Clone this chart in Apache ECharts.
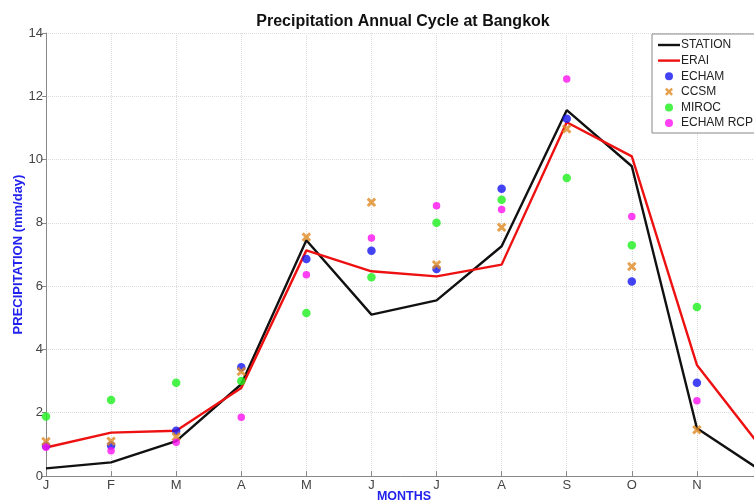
<!DOCTYPE html>
<html>
<head>
<meta charset="utf-8">
<script src="https://cdn.jsdelivr.net/npm/echarts@6/dist/echarts.min.js"></script>
<style>
  html, body { margin: 0; padding: 0; background: #fff; }
  #chart { width: 754px; height: 504px; }
</style>
</head>
<body>
<div id="chart"></div>
<script>
// Monthly mean precipitation (mm/day) at Bangkok
const months = ['J', 'F', 'M', 'A', 'M', 'J', 'J', 'A', 'S', 'O', 'N', 'D'];
const yTicks = [0, 2, 4, 6, 8, 10, 12, 14];

const station = [0.24, 0.43, 1.10, 2.90, 7.45, 5.10, 5.55, 7.26, 11.56, 9.79, 1.51, 0.15];
const erai    = [0.90, 1.37, 1.43, 2.78, 7.13, 6.47, 6.31, 6.68, 11.18, 10.10, 3.51, 0.87];
const echam   = [0.95, 0.96, 1.43, 3.44, 6.86, 7.12, 6.54, 9.08, 11.29, 6.15, 2.95, null];
const ccsm    = [1.09, 1.10, 1.24, 3.30, 7.55, 8.65, 6.68, 7.86, 10.97, 6.62, 1.46, null];
const miroc   = [1.88, 2.40, 2.95, 3.00, 5.15, 6.28, 8.00, 8.73, 9.42, 7.29, 5.34, null];
const echamRcp = [0.91, 0.80, 1.07, 1.86, 6.36, 7.52, 8.54, 8.42, 12.55, 8.20, 2.38, null];

const lineIcon = 'path://M0,0H22V2.4H0Z';
const crossIcon = 'path://M0,2.2L2.2,0L5,2.8L7.8,0L10,2.2L7.2,5L10,7.8L7.8,10L5,7.2L2.2,10L0,7.8L2.8,5Z';

const chart = echarts.init(document.getElementById('chart'), null, { renderer: 'canvas' });

const font = 'Liberation Sans, Arial, Helvetica, sans-serif';

function scatter(name, data, color, symbol, size) {
  return {
    name, type: 'scatter', data,
    symbol, symbolSize: size,
    itemStyle: { color },
    z: 5
  };
}

chart.setOption({
  animation: false,
  backgroundColor: '#fff',
  title: {
    text: 'Precipitation Annual Cycle at Bangkok',
    left: 398, textAlign: 'center', top: 9,
    textStyle: { fontFamily: font, fontSize: 16, fontWeight: 'bold', color: '#111' }
  },
  // the December column sits just past the right edge of the page
  grid: { left: 46, width: 716, top: 33, height: 443, containLabel: false, outerBoundsMode: 'none' },
  legend: {
    orient: 'vertical',
    left: 652, top: 34,
    padding: [5, 6, 4, 6],
    itemWidth: 22, itemHeight: 8, itemGap: 3.6,
    backgroundColor: '#fff',
    borderColor: '#888', borderWidth: 1, borderRadius: 0,
    textStyle: { fontFamily: font, fontSize: 12, color: '#222', padding: [0, 0, 0, -4], lineHeight: 12 },
    data: [
      { name: 'STATION', icon: lineIcon },
      { name: 'ERAI', icon: lineIcon },
      { name: 'ECHAM', icon: 'circle' },
      { name: 'CCSM', icon: crossIcon },
      { name: 'MIROC', icon: 'circle' },
      { name: 'ECHAM RCP', icon: 'circle' }
    ]
  },
  xAxis: {
    type: 'category',
    data: months,
    boundaryGap: false,
    name: 'MONTHS',
    nameLocation: 'middle',
    nameGap: 14,
    nameMoveOverlap: false,
    nameTextStyle: { fontFamily: font, fontSize: 12.5, fontWeight: 'bold', color: '#2222ee' },
    axisLine: { lineStyle: { color: '#888', width: 1 } },
    axisTick: { inside: true, length: 5, lineStyle: { color: '#888' } },
    axisLabel: { fontFamily: font, fontSize: 13, color: '#444', margin: 3, interval: 0 },
    splitLine: { show: true, lineStyle: { color: '#dcdcdc', type: 'dotted', width: 1 } }
  },
  yAxis: {
    type: 'value',
    min: yTicks[0], max: yTicks[yTicks.length - 1], interval: 2,
    name: 'PRECIPITATION (mm/day)',
    nameLocation: 'middle',
    nameGap: 21,
    nameMoveOverlap: false,
    nameTextStyle: { fontFamily: font, fontSize: 13, fontWeight: 'bold', color: '#2222ee' },
    axisLine: { show: true, lineStyle: { color: '#888', width: 1 } },
    axisTick: { show: true, inside: false, length: 4, lineStyle: { color: '#888' } },
    axisLabel: { fontFamily: font, fontSize: 13, color: '#444', margin: 3 },
    splitLine: { show: true, lineStyle: { color: '#dcdcdc', type: 'dotted', width: 1 } }
  },
  series: [
    {
      name: 'STATION', type: 'line', data: station,
      symbol: 'none', lineStyle: { color: '#111', width: 2.4 }, itemStyle: { color: '#111' }, z: 3
    },
    {
      name: 'ERAI', type: 'line', data: erai,
      symbol: 'none', lineStyle: { color: '#ee1111', width: 2.4 }, itemStyle: { color: '#ee1111' }, z: 4
    },
    scatter('ECHAM', echam, '#1414f0', 'circle', 8.5),
    scatter('CCSM', ccsm, '#e08a22', crossIcon, 9.5),
    scatter('MIROC', miroc, '#1cf01c', 'circle', 8.5),
    scatter('ECHAM RCP', echamRcp, '#ff10f0', 'circle', 7.5)
  ]
});
</script>
</body>
</html>
